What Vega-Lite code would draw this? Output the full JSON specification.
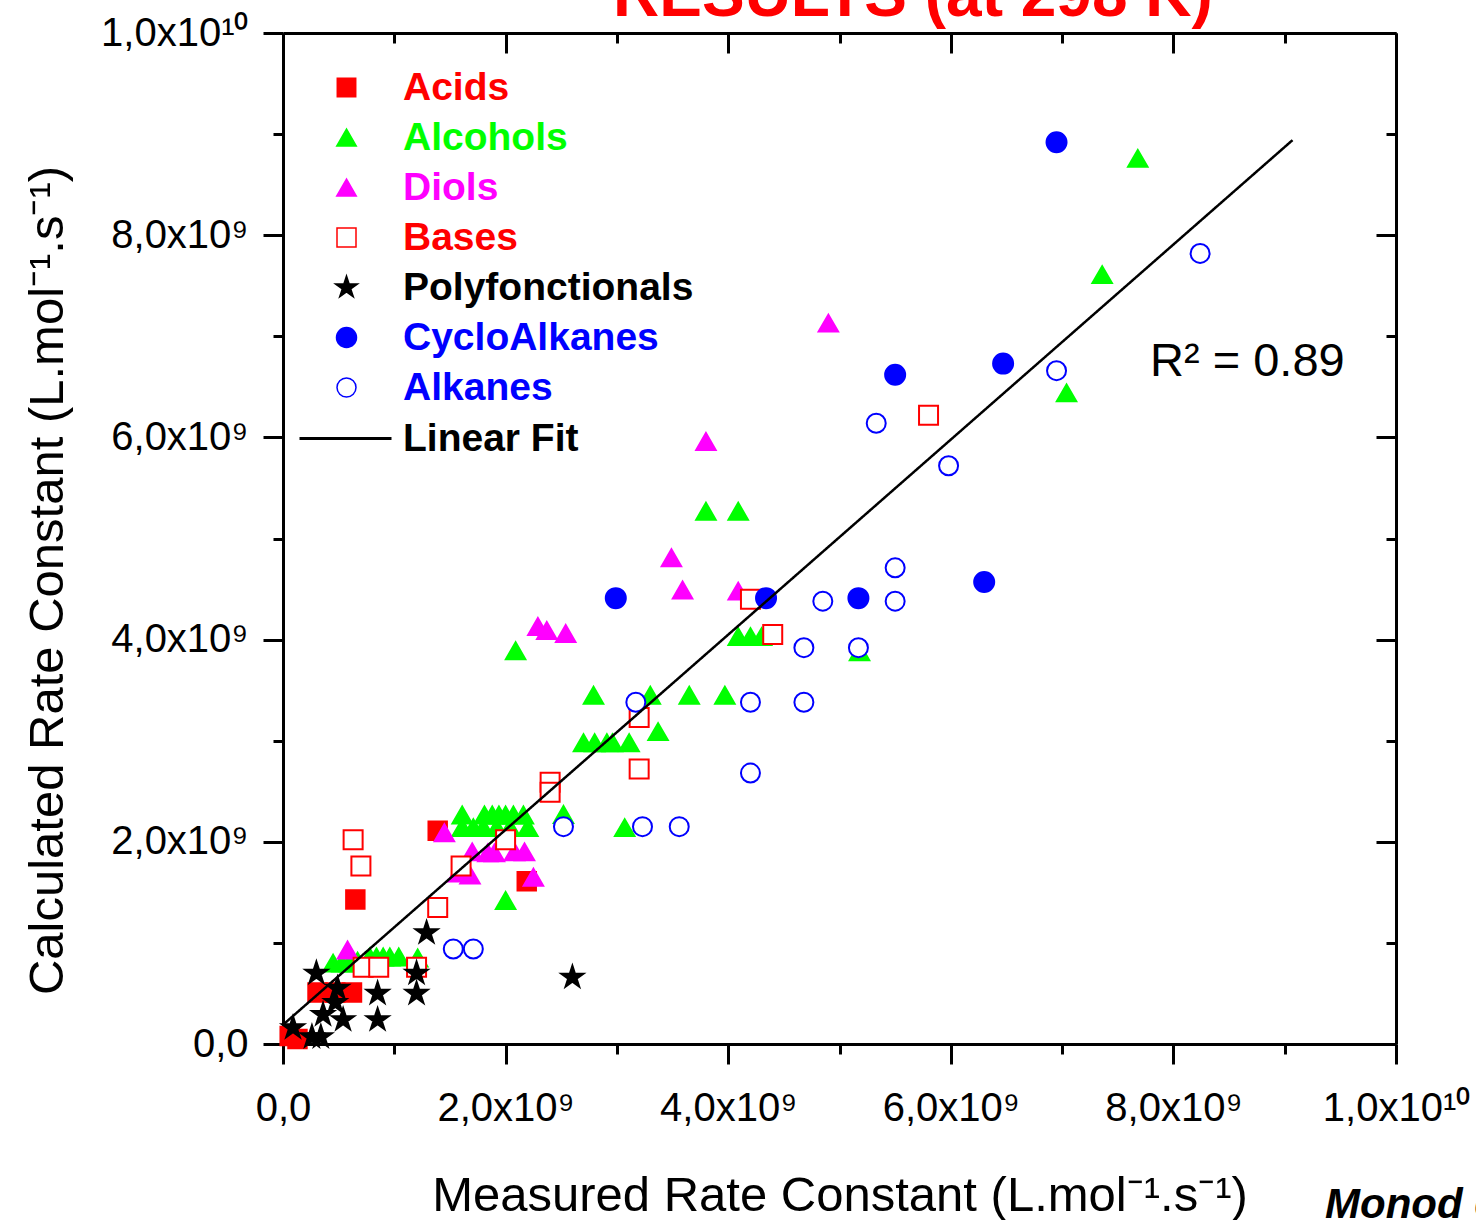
{
  "$schema": "https://vega.github.io/schema/vega-lite/v6.json",
  "width": 1113,
  "height": 1011,
  "autosize": "none",
  "padding": {"left": 283, "top": 33, "right": 80, "bottom": 176},
  "background": "white",
  "config": {"view": {"stroke": null}, "font": "Liberation Sans"},
  "datasets": {
    "points": [
      {"group": "Acids", "measured": 1.39e9, "calculated": 2.11e9},
      {"group": "Acids", "measured": 0.65e9, "calculated": 1.43e9},
      {"group": "Acids", "measured": 2.19e9, "calculated": 1.61e9},
      {"group": "Acids", "measured": 0.31e9, "calculated": 0.51e9},
      {"group": "Acids", "measured": 0.47e9, "calculated": 0.51e9},
      {"group": "Acids", "measured": 0.62e9, "calculated": 0.51e9},
      {"group": "Acids", "measured": 0.06e9, "calculated": 0.08e9},
      {"group": "Acids", "measured": 0.13e9, "calculated": 0.05e9},
      {"group": "Alcohols", "measured": 7.68e9, "calculated": 8.76e9},
      {"group": "Alcohols", "measured": 7.36e9, "calculated": 7.61e9},
      {"group": "Alcohols", "measured": 7.04e9, "calculated": 6.44e9},
      {"group": "Alcohols", "measured": 5.18e9, "calculated": 3.88e9},
      {"group": "Alcohols", "measured": 3.80e9, "calculated": 5.27e9},
      {"group": "Alcohols", "measured": 4.09e9, "calculated": 5.27e9},
      {"group": "Alcohols", "measured": 4.09e9, "calculated": 4.03e9},
      {"group": "Alcohols", "measured": 4.20e9, "calculated": 4.03e9},
      {"group": "Alcohols", "measured": 4.30e9, "calculated": 4.03e9},
      {"group": "Alcohols", "measured": 2.09e9, "calculated": 3.89e9},
      {"group": "Alcohols", "measured": 2.79e9, "calculated": 3.45e9},
      {"group": "Alcohols", "measured": 3.30e9, "calculated": 3.45e9},
      {"group": "Alcohols", "measured": 3.65e9, "calculated": 3.45e9},
      {"group": "Alcohols", "measured": 3.97e9, "calculated": 3.45e9},
      {"group": "Alcohols", "measured": 3.37e9, "calculated": 3.09e9},
      {"group": "Alcohols", "measured": 2.70e9, "calculated": 2.98e9},
      {"group": "Alcohols", "measured": 2.80e9, "calculated": 2.98e9},
      {"group": "Alcohols", "measured": 2.91e9, "calculated": 2.98e9},
      {"group": "Alcohols", "measured": 2.96e9, "calculated": 2.98e9},
      {"group": "Alcohols", "measured": 3.11e9, "calculated": 2.98e9},
      {"group": "Alcohols", "measured": 2.52e9, "calculated": 2.27e9},
      {"group": "Alcohols", "measured": 3.07e9, "calculated": 2.14e9},
      {"group": "Alcohols", "measured": 2.00e9, "calculated": 1.42e9},
      {"group": "Alcohols", "measured": 1.61e9, "calculated": 2.265e9},
      {"group": "Alcohols", "measured": 1.81e9, "calculated": 2.265e9},
      {"group": "Alcohols", "measured": 1.88e9, "calculated": 2.265e9},
      {"group": "Alcohols", "measured": 1.94e9, "calculated": 2.265e9},
      {"group": "Alcohols", "measured": 2.00e9, "calculated": 2.265e9},
      {"group": "Alcohols", "measured": 2.07e9, "calculated": 2.265e9},
      {"group": "Alcohols", "measured": 2.16e9, "calculated": 2.265e9},
      {"group": "Alcohols", "measured": 1.61e9, "calculated": 2.14e9},
      {"group": "Alcohols", "measured": 1.71e9, "calculated": 2.14e9},
      {"group": "Alcohols", "measured": 1.80e9, "calculated": 2.14e9},
      {"group": "Alcohols", "measured": 1.92e9, "calculated": 2.14e9},
      {"group": "Alcohols", "measured": 2.04e9, "calculated": 2.14e9},
      {"group": "Alcohols", "measured": 2.20e9, "calculated": 2.14e9},
      {"group": "Alcohols", "measured": 0.45e9, "calculated": 0.80e9},
      {"group": "Alcohols", "measured": 0.53e9, "calculated": 0.80e9},
      {"group": "Alcohols", "measured": 0.60e9, "calculated": 0.80e9},
      {"group": "Alcohols", "measured": 0.67e9, "calculated": 0.82e9},
      {"group": "Alcohols", "measured": 0.78e9, "calculated": 0.86e9},
      {"group": "Alcohols", "measured": 0.84e9, "calculated": 0.86e9},
      {"group": "Alcohols", "measured": 0.90e9, "calculated": 0.86e9},
      {"group": "Alcohols", "measured": 0.96e9, "calculated": 0.86e9},
      {"group": "Alcohols", "measured": 1.04e9, "calculated": 0.86e9},
      {"group": "Alcohols", "measured": 1.21e9, "calculated": 0.85e9},
      {"group": "Diols", "measured": 4.90e9, "calculated": 7.13e9},
      {"group": "Diols", "measured": 3.80e9, "calculated": 5.96e9},
      {"group": "Diols", "measured": 3.49e9, "calculated": 4.81e9},
      {"group": "Diols", "measured": 3.59e9, "calculated": 4.49e9},
      {"group": "Diols", "measured": 4.09e9, "calculated": 4.48e9},
      {"group": "Diols", "measured": 2.29e9, "calculated": 4.13e9},
      {"group": "Diols", "measured": 2.37e9, "calculated": 4.09e9},
      {"group": "Diols", "measured": 2.54e9, "calculated": 4.06e9},
      {"group": "Diols", "measured": 0.58e9, "calculated": 0.93e9},
      {"group": "Diols", "measured": 1.45e9, "calculated": 2.09e9},
      {"group": "Diols", "measured": 1.70e9, "calculated": 1.90e9},
      {"group": "Diols", "measured": 1.84e9, "calculated": 1.89e9},
      {"group": "Diols", "measured": 1.90e9, "calculated": 1.89e9},
      {"group": "Diols", "measured": 2.08e9, "calculated": 1.90e9},
      {"group": "Diols", "measured": 2.17e9, "calculated": 1.90e9},
      {"group": "Diols", "measured": 1.57e9, "calculated": 1.69e9},
      {"group": "Diols", "measured": 1.68e9, "calculated": 1.67e9},
      {"group": "Diols", "measured": 2.25e9, "calculated": 1.65e9},
      {"group": "Bases", "measured": 5.80e9, "calculated": 6.22e9},
      {"group": "Bases", "measured": 4.20e9, "calculated": 4.40e9},
      {"group": "Bases", "measured": 4.40e9, "calculated": 4.05e9},
      {"group": "Bases", "measured": 3.20e9, "calculated": 3.23e9},
      {"group": "Bases", "measured": 3.20e9, "calculated": 2.72e9},
      {"group": "Bases", "measured": 2.40e9, "calculated": 2.59e9},
      {"group": "Bases", "measured": 2.40e9, "calculated": 2.49e9},
      {"group": "Bases", "measured": 2.00e9, "calculated": 2.02e9},
      {"group": "Bases", "measured": 1.60e9, "calculated": 1.76e9},
      {"group": "Bases", "measured": 1.39e9, "calculated": 1.35e9},
      {"group": "Bases", "measured": 0.63e9, "calculated": 2.02e9},
      {"group": "Bases", "measured": 0.70e9, "calculated": 1.76e9},
      {"group": "Bases", "measured": 0.72e9, "calculated": 0.76e9},
      {"group": "Bases", "measured": 0.86e9, "calculated": 0.76e9},
      {"group": "Bases", "measured": 1.20e9, "calculated": 0.76e9},
      {"group": "Polyfonctionals", "measured": 2.60e9, "calculated": 0.66e9},
      {"group": "Polyfonctionals", "measured": 1.29e9, "calculated": 1.10e9},
      {"group": "Polyfonctionals", "measured": 1.20e9, "calculated": 0.70e9},
      {"group": "Polyfonctionals", "measured": 1.20e9, "calculated": 0.50e9},
      {"group": "Polyfonctionals", "measured": 0.85e9, "calculated": 0.50e9},
      {"group": "Polyfonctionals", "measured": 0.85e9, "calculated": 0.24e9},
      {"group": "Polyfonctionals", "measured": 0.30e9, "calculated": 0.70e9},
      {"group": "Polyfonctionals", "measured": 0.49e9, "calculated": 0.55e9},
      {"group": "Polyfonctionals", "measured": 0.47e9, "calculated": 0.41e9},
      {"group": "Polyfonctionals", "measured": 0.36e9, "calculated": 0.29e9},
      {"group": "Polyfonctionals", "measured": 0.54e9, "calculated": 0.24e9},
      {"group": "Polyfonctionals", "measured": 0.26e9, "calculated": 0.07e9},
      {"group": "Polyfonctionals", "measured": 0.34e9, "calculated": 0.07e9},
      {"group": "Polyfonctionals", "measured": 0.09e9, "calculated": 0.16e9},
      {"group": "CycloAlkanes", "measured": 6.95e9, "calculated": 8.92e9},
      {"group": "CycloAlkanes", "measured": 5.50e9, "calculated": 6.62e9},
      {"group": "CycloAlkanes", "measured": 6.47e9, "calculated": 6.73e9},
      {"group": "CycloAlkanes", "measured": 2.99e9, "calculated": 4.41e9},
      {"group": "CycloAlkanes", "measured": 4.34e9, "calculated": 4.41e9},
      {"group": "CycloAlkanes", "measured": 5.17e9, "calculated": 4.41e9},
      {"group": "CycloAlkanes", "measured": 6.30e9, "calculated": 4.57e9},
      {"group": "Alkanes", "measured": 8.24e9, "calculated": 7.82e9},
      {"group": "Alkanes", "measured": 6.95e9, "calculated": 6.66e9},
      {"group": "Alkanes", "measured": 5.33e9, "calculated": 6.14e9},
      {"group": "Alkanes", "measured": 5.98e9, "calculated": 5.72e9},
      {"group": "Alkanes", "measured": 5.50e9, "calculated": 4.71e9},
      {"group": "Alkanes", "measured": 5.50e9, "calculated": 4.38e9},
      {"group": "Alkanes", "measured": 4.85e9, "calculated": 4.38e9},
      {"group": "Alkanes", "measured": 4.68e9, "calculated": 3.92e9},
      {"group": "Alkanes", "measured": 5.17e9, "calculated": 3.92e9},
      {"group": "Alkanes", "measured": 4.20e9, "calculated": 3.38e9},
      {"group": "Alkanes", "measured": 4.68e9, "calculated": 3.38e9},
      {"group": "Alkanes", "measured": 3.17e9, "calculated": 3.38e9},
      {"group": "Alkanes", "measured": 4.20e9, "calculated": 2.68e9},
      {"group": "Alkanes", "measured": 2.52e9, "calculated": 2.15e9},
      {"group": "Alkanes", "measured": 3.23e9, "calculated": 2.15e9},
      {"group": "Alkanes", "measured": 3.56e9, "calculated": 2.15e9},
      {"group": "Alkanes", "measured": 1.53e9, "calculated": 0.94e9},
      {"group": "Alkanes", "measured": 1.71e9, "calculated": 0.94e9}
    ],
    "fit": [
      {"series": "Linear Fit", "measured": 0, "calculated": 0.19e9},
      {"series": "Linear Fit", "measured": 9.07e9, "calculated": 8.94e9}
    ]
  },
  "layer": [
    {
      "data": {"name": "points"},
      "mark": {"type": "point", "filled": false, "opacity": 1, "strokeWidth": 2},
      "encoding": {
        "x": {
          "field": "measured", "type": "quantitative",
          "scale": {"domain": [0, 10000000000], "nice": false, "zero": false},
          "axis": {
            "orient": "bottom",
            "values": [0, 1e9, 2e9, 3e9, 4e9, 5e9, 6e9, 7e9, 8e9, 9e9, 1e10],
            "title": "Measured Rate Constant (L.mol⁻¹.s⁻¹)",
            "titleFont": "Liberation Sans", "titleFontSize": 49, "titleFontWeight": "normal", "titleColor": "black",
            "titleBaseline": "alphabetic", "titleY": 166, "titleX": 556.5, "titleAlign": "center",
            "labelExpr": "datum.value % 2e9 != 0 ? '' : (datum.value == 0 ? '0,0' : (datum.value >= 1e10 ? '1,0x10¹⁰' : replace(format(datum.value / 1e9, '.1f'), '.', ',') + 'x10⁹'))",
            "labelFont": "Liberation Sans", "labelFontSize": 40, "labelColor": "black",
            "labelBaseline": "alphabetic", "labelPadding": 56, "labelFlush": false, "labelOverlap": false, "labelBound": false,
            "domainColor": "black", "domainWidth": 3,
            "tickColor": "black", "tickWidth": 3,
            "tickSize": {"condition": {"test": "datum.value % 2e9 == 0", "value": 20}, "value": 10},
            "grid": false
          }
        },
        "y": {
          "field": "calculated", "type": "quantitative",
          "scale": {"domain": [0, 10000000000], "nice": false, "zero": false},
          "axis": {
            "orient": "left",
            "values": [0, 1e9, 2e9, 3e9, 4e9, 5e9, 6e9, 7e9, 8e9, 9e9, 1e10],
            "title": "Calculated Rate Constant (L.mol⁻¹.s⁻¹)",
            "titleFont": "Liberation Sans", "titleFontSize": 49, "titleFontWeight": "normal", "titleColor": "black",
            "titleBaseline": "alphabetic", "titleAngle": 270, "titleX": -221, "titleY": 547, "titleAlign": "center",
            "labelExpr": "datum.value % 2e9 != 0 ? '' : (datum.value == 0 ? '0,0' : (datum.value >= 1e10 ? '1,0x10¹⁰' : replace(format(datum.value / 1e9, '.1f'), '.', ',') + 'x10⁹'))",
            "labelFont": "Liberation Sans", "labelFontSize": 40, "labelColor": "black",
            "labelBaseline": "middle", "labelAlign": "right", "labelPadding": 15, "labelFlush": false, "labelOverlap": false, "labelBound": false,
            "domainColor": "black", "domainWidth": 3,
            "tickColor": "black", "tickWidth": 3,
            "tickSize": {"condition": {"test": "datum.value % 2e9 == 0", "value": 20}, "value": 10},
            "grid": false
          }
        },
        "shape": {
          "field": "group", "type": "nominal",
          "scale": {"domain": ["Acids", "Alcohols", "Diols", "Bases", "Polyfonctionals", "CycloAlkanes", "Alkanes"],
                    "range": ["square", "triangle-up", "triangle-up", "square", "M0,-1L0.2245,-0.309L0.951,-0.309L0.363,0.118L0.588,0.809L0,0.382L-0.588,0.809L-0.363,0.118L-0.951,-0.309L-0.2245,-0.309Z", "circle", "circle"]},
          "legend": {"title": null, "orient": "none", "legendX": 44, "legendY": 35, "padding": 0, "labelFont": "Liberation Sans", "labelFontSize": 39, "labelFontWeight": "bold", "labelOffset": 37, "rowPadding": 10, "labelLimit": 600, "labelColor": {"expr": "datum.value == 'Alcohols' ? '#00ff00' : datum.value == 'Diols' ? '#ff00ff' : datum.value == 'Polyfonctionals' ? '#000000' : (datum.value == 'CycloAlkanes' || datum.value == 'Alkanes') ? '#0000ff' : '#ff0000'"}}
        },
        "color": {
          "field": "group", "type": "nominal",
          "scale": {"domain": ["Acids", "Alcohols", "Diols", "Bases", "Polyfonctionals", "CycloAlkanes", "Alkanes"],
                    "range": ["#ff0000", "#00ff00", "#ff00ff", "#ff0000", "#000000", "#0000ff", "#0000ff"]},
          "legend": {"title": null, "orient": "none", "legendX": 44, "legendY": 35, "padding": 0, "labelFont": "Liberation Sans", "labelFontSize": 39, "labelFontWeight": "bold", "labelOffset": 37, "rowPadding": 10, "labelLimit": 600, "labelColor": {"expr": "datum.value == 'Alcohols' ? '#00ff00' : datum.value == 'Diols' ? '#ff00ff' : datum.value == 'Polyfonctionals' ? '#000000' : (datum.value == 'CycloAlkanes' || datum.value == 'Alkanes') ? '#0000ff' : '#ff0000'"}}
        },
        "fill": {
          "field": "group", "type": "nominal",
          "scale": {"domain": ["Acids", "Alcohols", "Diols", "Bases", "Polyfonctionals", "CycloAlkanes", "Alkanes"],
                    "range": ["#ff0000", "#00ff00", "#ff00ff", "#ffffff", "#000000", "#0000ff", "#ffffff"]},
          "legend": {"title": null, "orient": "none", "legendX": 44, "legendY": 35, "padding": 0, "labelFont": "Liberation Sans", "labelFontSize": 39, "labelFontWeight": "bold", "labelOffset": 37, "rowPadding": 10, "labelLimit": 600, "labelColor": {"expr": "datum.value == 'Alcohols' ? '#00ff00' : datum.value == 'Diols' ? '#ff00ff' : datum.value == 'Polyfonctionals' ? '#000000' : (datum.value == 'CycloAlkanes' || datum.value == 'Alkanes') ? '#0000ff' : '#ff0000'"}}
        },
        "size": {
          "field": "group", "type": "nominal",
          "scale": {"type": "ordinal", "domain": ["Acids", "Alcohols", "Diols", "Bases", "Polyfonctionals", "CycloAlkanes", "Alkanes"],
                    "range": [340, 380, 380, 361, 540, 400, 361]},
          "legend": {"title": null, "orient": "none", "legendX": 44, "legendY": 35, "padding": 0, "labelFont": "Liberation Sans", "labelFontSize": 39, "labelFontWeight": "bold", "labelOffset": 37, "rowPadding": 10, "labelLimit": 600, "labelColor": {"expr": "datum.value == 'Alcohols' ? '#00ff00' : datum.value == 'Diols' ? '#ff00ff' : datum.value == 'Polyfonctionals' ? '#000000' : (datum.value == 'CycloAlkanes' || datum.value == 'Alkanes') ? '#0000ff' : '#ff0000'"}}
        }
      }
    },
    {
      "data": {"name": "fit"},
      "mark": {"type": "line", "color": "black", "strokeWidth": 2.5},
      "encoding": {
        "x": {
          "field": "measured", "type": "quantitative",
          "scale": {"domain": [0, 10000000000], "nice": false, "zero": false},
          "axis": {
            "orient": "top", "values": [0, 1e9, 2e9, 3e9, 4e9, 5e9, 6e9, 7e9, 8e9, 9e9, 1e10],
            "labels": false, "title": null, "grid": false,
            "domainColor": "black", "domainWidth": 3, "tickColor": "black", "tickWidth": 3,
            "tickSize": {"condition": {"test": "datum.value % 2e9 == 0", "value": -20}, "value": -10}
          }
        },
        "y": {
          "field": "calculated", "type": "quantitative",
          "scale": {"domain": [0, 10000000000], "nice": false, "zero": false},
          "axis": {
            "orient": "right", "values": [0, 1e9, 2e9, 3e9, 4e9, 5e9, 6e9, 7e9, 8e9, 9e9, 1e10],
            "labels": false, "title": null, "grid": false,
            "domainColor": "black", "domainWidth": 3, "tickColor": "black", "tickWidth": 3,
            "tickSize": {"condition": {"test": "datum.value % 2e9 == 0", "value": -20}, "value": -10}
          }
        },
        "strokeDash": {
          "field": "series", "type": "nominal",
          "scale": {"domain": ["Linear Fit"], "range": [[1, 0]]},
          "legend": {"title": null, "orient": "none", "legendX": 15, "legendY": 358, "padding": 0, "symbolType": "stroke", "symbolSize": 8464, "symbolStrokeWidth": 3, "symbolStrokeColor": "black", "labelFont": "Liberation Sans", "labelFontSize": 39, "labelFontWeight": "bold", "labelColor": "black", "labelOffset": 10, "labelLimit": 600}
        }
      }
    },
    {
      "data": {"values": [{"label": "R² = 0.89"}]},
      "mark": {"type": "text", "align": "left", "baseline": "alphabetic", "font": "Liberation Sans", "fontSize": 47, "color": "black"},
      "encoding": {
        "x": {"datum": 7790000000, "type": "quantitative", "scale": {"domain": [0, 10000000000], "nice": false, "zero": false}, "axis": null},
        "y": {"datum": 6607000000, "type": "quantitative", "scale": {"domain": [0, 10000000000], "nice": false, "zero": false}, "axis": null},
        "text": {"field": "label"}
      }
    },
    {
      "data": {"values": [{"label": "RESULTS (at 298 K)"}]},
      "mark": {"type": "text", "align": "center", "baseline": "alphabetic", "font": "Liberation Sans", "fontSize": 64, "fontWeight": "bold", "color": "#ff0000"},
      "encoding": {
        "x": {"datum": 5660000000, "type": "quantitative", "scale": {"domain": [0, 10000000000], "nice": false, "zero": false}, "axis": null},
        "y": {"datum": 10168000000, "type": "quantitative", "scale": {"domain": [0, 10000000000], "nice": false, "zero": false}, "axis": null},
        "text": {"field": "label"}
      }
    },
    {
      "data": {"values": [{"label": "Monod et al."}]},
      "mark": {"type": "text", "align": "left", "baseline": "alphabetic", "font": "Liberation Sans", "fontSize": 42, "fontWeight": "bold", "fontStyle": "italic", "color": "black"},
      "encoding": {
        "x": {"datum": 9362000000, "type": "quantitative", "scale": {"domain": [0, 10000000000], "nice": false, "zero": false}, "axis": null},
        "y": {"datum": -1721000000, "type": "quantitative", "scale": {"domain": [0, 10000000000], "nice": false, "zero": false}, "axis": null},
        "text": {"field": "label"}
      }
    }
  ],
  "resolve": {"axis": {"x": "independent", "y": "independent"}}
}
